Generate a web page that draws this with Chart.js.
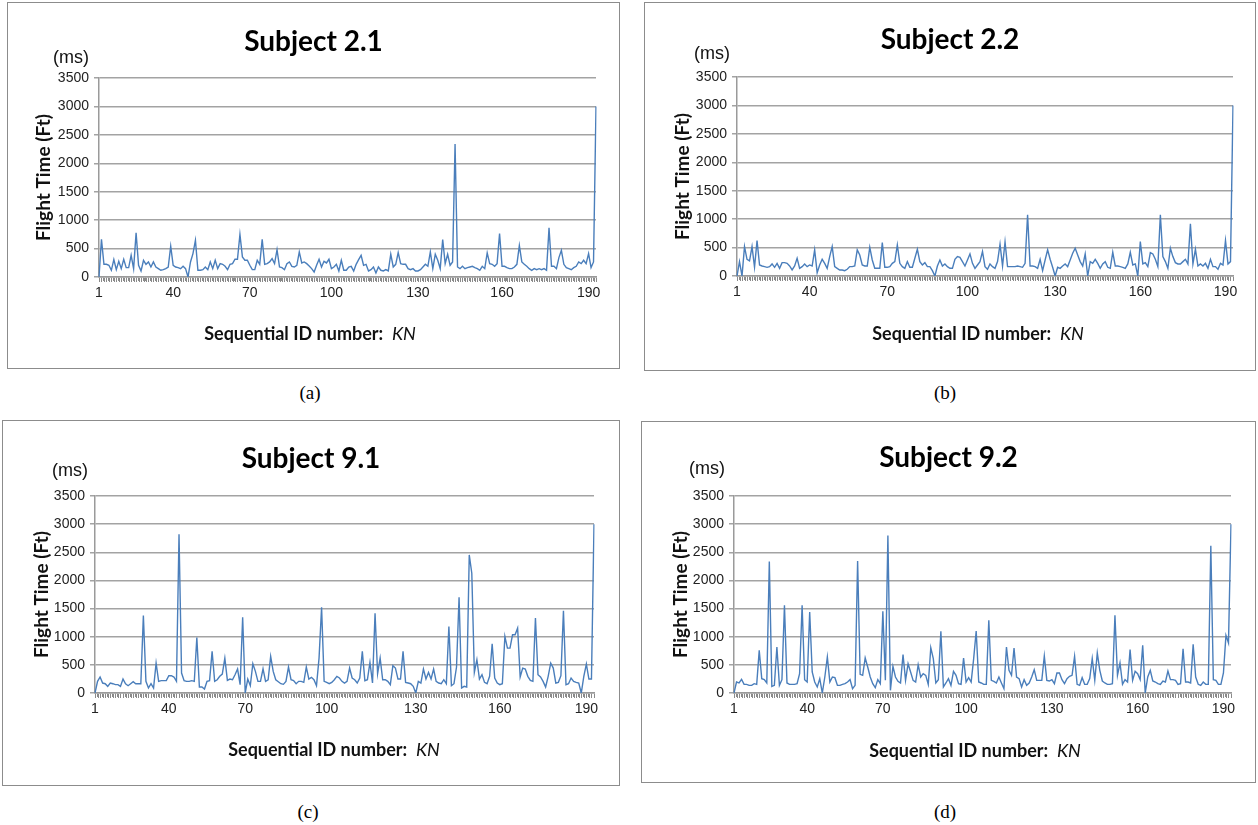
<!DOCTYPE html>
<html>
<head>
<meta charset="utf-8">
<title>Flight time per keystroke</title>
<style>
body { margin:0; background:#fff; width:1258px; height:825px; position:relative; overflow:hidden; }
.box { position:absolute; border:1px solid #8c8c8c; box-sizing:border-box; }
.box canvas { position:absolute; left:-1px; top:-1px; }
.lbl { position:absolute; transform:translate(-50%,-50%); white-space:nowrap; }
.ms { font:18px "Liberation Sans", Arial, sans-serif; color:#111; }
.xt { font:bold 18px Lato, sans-serif; color:#111; }
.xt i { font-weight:normal; }
.cap { font:19px "Liberation Serif", serif; color:#000; }
</style>
</head>
<body>
<script src="https://cdn.jsdelivr.net/npm/chart.js"></script>
<script>
// flight time (ms) per keystroke
var ft21 = [0,664,223,223,206,118,306,129,276,147, 312,165,165,382,147,776,206,106,294,223,
  265,176,265,176,147,118,129,147,176,541, 206,176,165,147,188,147,0,265,412,647,
  118,118,129,176,129,265,147,294,147,235, 223,188,129,223,235,312,312,747,353,294,
  294,206,129,129,294,223,664,223,235,265, 323,235,482,176,165,129,235,265,188,176,
  206,441,247,265,235,194,147,88,206,312, 176,276,247,312,147,176,223,106,294,
  118,118,176,188,106,223,306,382,206,223, 106,129,176,71,176,118,106,129,106,400,
  176,223,429,235,223,223,147,129,147,106, 106,129,176,223,188,441,147,400,294,147,
  659,235,400,206,265,2340,176,147,188,147, 165,176,188,165,147,118,188,147,423,235,
  223,188,235,764,188,188,165,147,147,176, 223,553,265,223,188,147,118,147,129,147,
  129,147,118,864,188,188,147,341,470,223, 165,147,129,165,188,265,235,294,235,412,
  165,265,3000];

var ft22 = [0,253,0,517,294,265,517,153,623,194, 176,165,153,165,212,153,223,135,235,235,
  223,176,106,176,312,135,165,212,165,194, 176,459,59,194,294,223,135,341,517,165,
  135,106,106,94,118,165,165,176,459,370, 194,176,176,506,282,135,135,135,588,153,
  153,165,223,253,547,223,165,135,253,153, 153,312,470,253,194,235,165,165,94,0,
  176,282,176,212,165,135,135,294,341,329, 253,176,282,388,223,135,194,253,430,
  165,118,212,165,135,253,559,176,600,165, 165,165,165,176,165,153,223,1076,176,176,
  165,135,294,94,282,459,294,153,0,153, 135,176,212,165,282,400,488,370,253,176,
  388,0,253,223,294,223,135,212,253,153, 135,417,176,176,165,153,135,212,417,194,
  212,0,605,212,235,165,412,388,294,165, 1076,341,253,135,488,341,235,212,212,253,
  294,212,917,212,470,176,212,176,223,135, 294,165,165,118,223,194,623,212,253,3000];

var ft91 = [0,207,284,177,165,118,177,165,148,148, 118,248,165,130,165,201,165,165,165,1377,
  207,89,165,89,532,207,219,219,219,307, 307,284,207,2819,355,219,207,207,219,207,
  987,106,106,71,207,219,739,207,236,296, 337,620,225,248,236,325,426,148,1347,0,
  248,130,520,384,207,207,431,207,236,650, 384,236,201,165,154,207,461,236,219,165,
  207,207,189,461,248,278,236,130,620,1525, 207,189,165,189,236,296,266,207,
  177,207,443,266,236,177,266,739,219,236, 544,177,1418,343,620,236,236,207,148,485,
  443,248,248,739,189,177,165,118,0,207, 177,426,248,366,248,426,207,177,165,236,
  165,1182,130,165,461,1702,89,118,106,2453, 2128,366,591,248,325,189,165,296,875,266,
  177,148,165,1005,798,798,1034,1034,1152,284, 443,426,296,225,207,1330,325,284,207,106,
  296,532,443,177,189,307,1460,148,165,266, 207,189,177,0,296,514,248,248,3000];

var ft92 = [0,195,178,243,154,154,136,136,166,154, 758,255,237,178,2338,118,136,817,136,237,
  1557,178,154,154,154,166,343,1557,237,195, 1439,373,195,107,255,0,284,639,195,284,
  272,136,136,154,166,195,237,77,136,2344, 332,314,622,462,284,166,95,237,166,1450,
  225,2800,47,474,284,207,178,681,225,521, 373,225,195,503,284,343,314,154,805,610,
  178,237,1095,107,178,255,136,385,314,166, 154,622,195,272,195,610,1101,195,178,154,
  154,1290,225,207,178,284,178,77,817,403, 314,799,284,255,107,237,136,178,284,414,
  225,225,225,657,225,213,237,166,355,355, 237,166,255,296,314,651,154,136,272,154,
  154,255,610,225,710,403,213,178,154,154, 166,1379,314,533,154,237,195,770,225,385,
  343,237,847,0,284,403,213,195,166,154, 213,195,391,237,237,225,154,166,787,195,
  195,178,864,284,154,136,195,154,154,2617, 237,225,154,154,355,1024,888,3000];

var yTicks = [0, 500, 1000, 1500, 2000, 2500, 3000, 3500];
var tickText = ['1', '40', '70', '100', '130', '160', '190'];
var tickFrac = [0, 0.147, 0.302, 0.466, 0.642, 0.813, 0.985];

var panels = [
  { data: ft21, title: 'Subject 2.1', cap: '(a)', box: [7, 2, 620, 369], plot: [99, 78, 596, 277],
    titleY: 42, yTitleX: 44, ms: [71, 57], xt: [310, 333], capPos: [310, 393] },
  { data: ft22, title: 'Subject 2.2', cap: '(b)', box: [644, 2, 1256, 371], plot: [737, 77, 1233, 276],
    titleY: 40, yTitleX: 683, ms: [712, 53], xt: [978, 333], capPos: [945, 393] },
  { data: ft91, title: 'Subject 9.1', cap: '(c)', box: [2, 420, 620, 786], plot: [95, 496, 594, 693],
    titleY: 459, yTitleX: 42, ms: [70, 470], xt: [334, 749], capPos: [308, 812] },
  { data: ft92, title: 'Subject 9.2', cap: '(d)', box: [641, 421, 1256, 783], plot: [734, 496, 1231, 693],
    titleY: 458, yTitleX: 681, ms: [707, 468], xt: [975, 750], capPos: [945, 812] }
];

function addLabel(cls, html, pos) {
  var d = document.createElement('div');
  d.className = 'lbl ' + cls;
  d.innerHTML = html;
  d.style.left = pos[0] + 'px';
  d.style.top = pos[1] + 'px';
  document.body.appendChild(d);
}

// short tick mark under the x axis at every category
var catTicks = {
  id: 'catTicks',
  afterDraw: function(chart) {
    var xs = chart.scales.x, ctx = chart.ctx, y0 = xs.top;
    ctx.save();
    ctx.strokeStyle = '#8a8a8a';
    ctx.lineWidth = 1;
    ctx.beginPath();
    for (var i = 0; i < chart.data.labels.length; i++) {
      var x = Math.round(xs.getPixelForValue(i)) + 0.5;
      ctx.moveTo(x, y0 + 1);
      ctx.lineTo(x, y0 + 5);
    }
    ctx.stroke();
    ctx.restore();
  }
};

panels.forEach(function(p) {
  var bx = p.box, pl = p.plot;
  var w = bx[2] - bx[0], h = bx[3] - bx[1];
  var box = document.createElement('div');
  box.className = 'box';
  box.style.left = bx[0] + 'px';
  box.style.top = bx[1] + 'px';
  box.style.width = w + 'px';
  box.style.height = h + 'px';
  var cv = document.createElement('canvas');
  cv.width = w; cv.height = h;
  box.appendChild(cv);
  document.body.appendChild(box);

  var n = p.data.length;
  var labels = p.data.map(function(v, i) { return String(i + 1); });
  var tickIdx = tickFrac.map(function(f) { return Math.round(f * (n - 1)); });
  var xH = 30;
  var side = bx[2] - pl[2];
  var tTop = p.titleY - bx[1] - 16.8;
  var tBot = pl[1] - bx[1] - 33.6 - tTop;

  new Chart(cv.getContext('2d'), {
    type: 'line',
    data: {
      labels: labels,
      datasets: [{ data: p.data, borderColor: '#4a7ebb', borderWidth: 1.4,
        pointRadius: 0, tension: 0, fill: false }]
    },
    options: {
      responsive: false,
      animation: false,
      layout: { padding: { left: side, top: 0, right: side, bottom: bx[3] - pl[3] - xH } },
      plugins: {
        legend: { display: false },
        tooltip: { enabled: false },
        title: { display: true, text: p.title, color: '#000',
          font: { family: 'Lato', size: 28, weight: 'bold', lineHeight: 1.2 },
          padding: { top: tTop, bottom: tBot } }
      },
      scales: {
        x: {
          type: 'category',
          afterFit: function(s) { s.height = xH; },
          grid: { display: true, drawOnChartArea: false, drawTicks: true, tickLength: 4, color: '#8a8a8a', lineWidth: 1 },
          border: { display: true, color: '#9a9a9a', width: 1.5 },
          ticks: {
            autoSkip: false, maxRotation: 0, minRotation: 0, padding: 4,
            color: '#222', font: { family: 'Liberation Sans', size: 14 },
            callback: function(v, i) {
              var k = tickIdx.indexOf(i);
              return k >= 0 ? tickText[k] : '';
            }
          }
        },
        y: {
          min: 0, max: 3500,
          afterFit: function(s) { s.width = pl[0] - bx[0] - side; },
          afterBuildTicks: function(s) { s.ticks = yTicks.map(function(v) { return { value: v }; }); },
          grid: { color: '#a3a3a3', lineWidth: 1.5, tickLength: 5 },
          border: { display: true, color: '#9a9a9a', width: 1.5 },
          ticks: { padding: 5, color: '#222', font: { family: 'Liberation Sans', size: 14 },
            callback: function(v) { return String(v); } },
          title: { display: true, text: 'Flight Time (Ft)', color: '#111',
            font: { family: 'Lato', size: 19, weight: 'bold', lineHeight: 1.2 },
            padding: { top: p.yTitleX - bx[0] - side - 11.4, bottom: 0 } }
        }
      }
    },
    plugins: [catTicks]
  });

  addLabel('ms', '(ms)', p.ms);
  addLabel('xt', 'Sequential ID number:&nbsp; <i>KN</i>', p.xt);
  addLabel('cap', p.cap, p.capPos);
});
</script>
</body>
</html>
